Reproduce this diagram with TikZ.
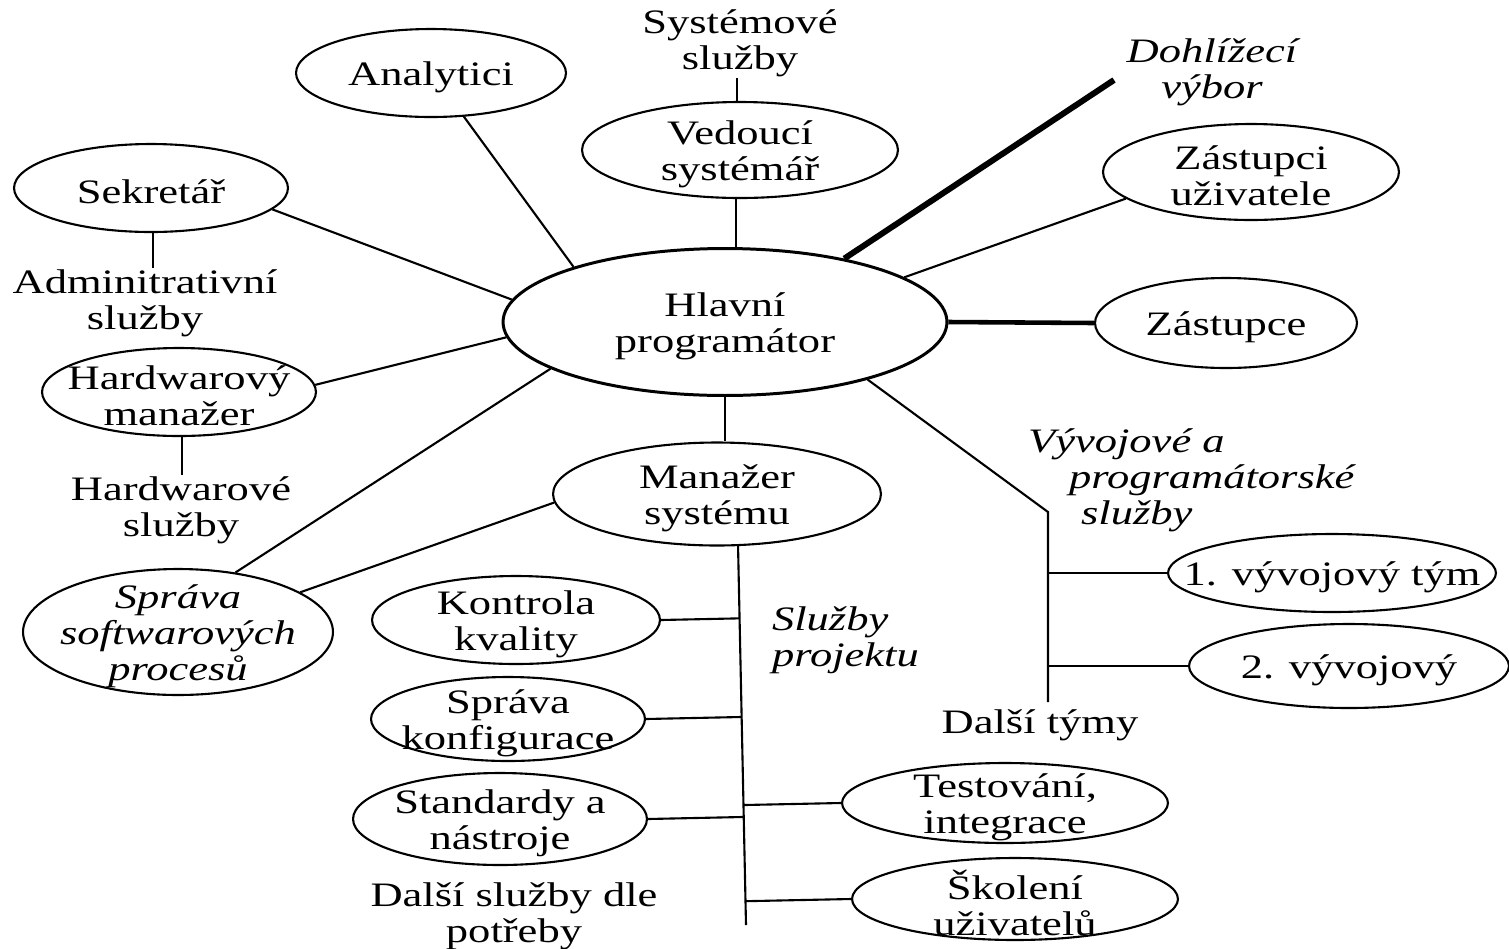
\documentclass[tikz,border=0pt]{standalone}
\usepackage{fontspec}
\setmainfont{Liberation Serif}[FakeStretch=1.3]
\usetikzlibrary{shapes.geometric,calc}
\begin{document}
\begin{tikzpicture}[x=0.02cm,y=-0.02cm]
\path[use as bounding box] (0,0) rectangle (1509,948);

\tikzstyle{every node}+=[font=\fontsize{19.5}{20.5}\selectfont,align=center,inner sep=0pt]
\tikzstyle{every label}+=[align=center,yshift=-0.08cm]
\tikzstyle{every path}+=[line width=1.2pt]
\tikzstyle{oval}=[draw,ellipse,line width=1.2pt]
\tikzstyle{slanted}=[font=\fontsize{19.5}{20.5}\selectfont\itshape]

% ovals
\node[oval,minimum width=8.88cm,minimum height=2.94cm,line width=1.7pt,label={center:Hlavní\\programátor}] (hp) at (725,322) {};
\node[oval,minimum width=5.4cm,minimum height=1.76cm,label={center:Analytici}] (ana) at (431,73) {};
\node[oval,minimum width=5.48cm,minimum height=1.76cm,label={center:Sekretář}] (sek) at (151,188) {};
\node[oval,minimum width=6.32cm,minimum height=1.92cm,label={center:Vedoucí\\systémář}] (vs) at (740,150) {};
\node[oval,minimum width=5.92cm,minimum height=1.92cm,label={center:Zástupci\\uživatele}] (zu) at (1251,172) {};
\node[oval,minimum width=5.24cm,minimum height=1.8cm,label={center:Zástupce}] (zs) at (1226,323) {};
\node[oval,minimum width=5.48cm,minimum height=1.76cm,label={center:Hardwarový\\manažer}] (hw) at (179,392) {};
\node[oval,minimum width=6.56cm,minimum height=2.06cm,label={center:Manažer\\systému}] (ms) at (717,494) {};
\node[oval,minimum width=6.2cm,minimum height=2.52cm,label={[slanted]center:Správa\\softwarových\\procesů}] (ssp) at (178,632) {};
\node[oval,minimum width=5.76cm,minimum height=1.76cm,label={center:Kontrola\\kvality}] (kk) at (516,620) {};
\node[oval,minimum width=5.48cm,minimum height=1.68cm,label={center:Správa\\konfigurace}] (sk) at (508,719) {};
\node[oval,minimum width=5.88cm,minimum height=1.84cm,label={center:Standardy a\\nástroje}] (sn) at (500,819) {};
\node[oval,minimum width=6.56cm,minimum height=1.56cm,label={center:1. vývojový tým}] (t1) at (1332,573) {};
\node[oval,minimum width=6.4cm,minimum height=1.68cm,label={center:2. vývojový}] (t2) at (1349,666) {};
\node[oval,minimum width=6.52cm,minimum height=1.6cm,label={center:Testování,\\integrace}] (tst) at (1005,803) {};
\node[oval,minimum width=6.52cm,minimum height=1.64cm,label={center:Školení\\uživatelů}] (sko) at (1015,899) {};

% free texts
\node (sys) at (740,43) {Systémové\\služby};
\node[slanted] (dhv) at (1212,72) {Dohlížecí\\výbor};
\node (adm) at (145,303) {Adminitrativní\\služby};
\node (hws) at (181,510) {Hardwarové\\služby};
\node[slanted,anchor=west,align=left] (vys) at (1027,480) {Vývojové a\\\hspace*{0.82cm}programátorské\\\hspace*{1.06cm}služby};
\node[slanted,anchor=west,align=left] (sp) at (771,640) {Služby\\projektu};
\node (dt) at (1040,725) {Další týmy};
\node (dsp) at (514,916) {Další služby dle\\potřeby};

\coordinate (dh) at (1114,80);
\coordinate (vk) at (1048,512);
\coordinate (ve) at (1048,702);
\coordinate (pb) at (746,925);

% connectors
\draw (ana.-53) -- (hp.160.7);
\draw (sek.-10) -- (hp.174);
\draw (sek.-87) -- (sek.-87 |- adm.north);
\draw (hw.3) -- (hp.-176);
\draw (hw.-86) -- (hw.-86 |- hws.north);
\draw (vs.93) -- (vs.93 |- sys.south);
\draw (vs.-95) -- (vs.-95 |- hp.north);
\draw[line width=3.4pt] (hp.28) -- (dh);
\draw (hp.14) -- (zu.192);
\draw[line width=2.6pt] (hp.east) -- (zs.west);
\draw (hp.-90) -- (hp.-90 |- ms.north);
\draw (hp.195.6) -- (ssp.46);
\draw (ms.183) -- (ssp.18);
\draw (hp.-22) -- (vk) -- (ve);
\draw (t1.west -| vk) -- (t1.west);
\draw (t2.west -| vk) -- (t2.west);
\draw (ms.-68) -- (pb);
\draw (kk.east) -- ($(ms.-68)!(kk.east)!(pb)$);
\draw (sk.east) -- ($(ms.-68)!(sk.east)!(pb)$);
\draw (sn.east) -- ($(ms.-68)!(sn.east)!(pb)$);
\draw ($(ms.-68)!(tst.west)!(pb)$) -- (tst.west);
\draw ($(ms.-68)!(sko.west)!(pb)$) -- (sko.west);
\end{tikzpicture}
\end{document}
